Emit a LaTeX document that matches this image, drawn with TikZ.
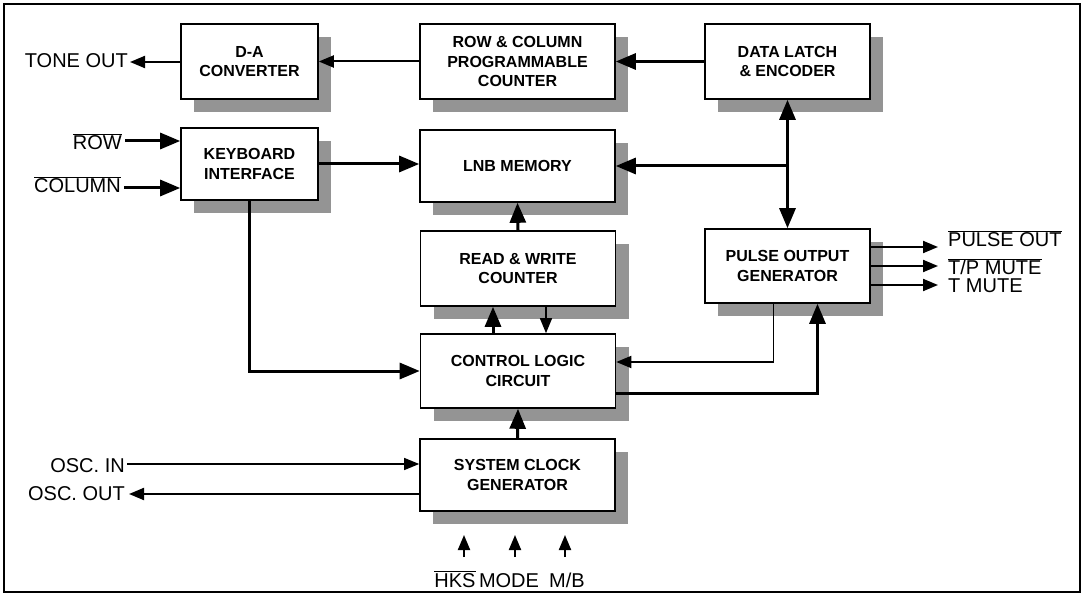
\documentclass[tikz,border=0pt]{standalone}
\usepackage{fontspec}
\setmainfont{Liberation Sans}
\usetikzlibrary{arrows.meta,shadows,calc}
\newcommand\ovl[1]{$\overline{\mbox{#1}}$}
\begin{document}
\begin{tikzpicture}[x=1pt,y=-1pt,
  blk/.style={draw,line width=1.6pt,fill=white,align=center,
    font=\fontsize{16}{19.5}\selectfont\bfseries,inner sep=0pt,
    drop shadow={shadow xshift=13pt,shadow yshift=-13pt,opacity=1,fill=black!42}},
  lbl/.style={font=\fontsize{20}{23}\selectfont,inner sep=0pt},
  thickarr/.style={line width=3pt,-{Triangle[length=20pt,width=16pt]}},
  dblarr/.style={line width=3pt,{Triangle[length=20pt,width=16pt]}-{Triangle[length=20pt,width=16pt]}},
  medarr/.style={line width=2pt,-{Triangle[length=15pt,width=12pt]}},
  thinarr/.style={line width=1.2pt,-{Triangle[length=15pt,width=12pt]}},
  thickln/.style={line width=3pt}
]
\useasboundingbox (0,0) rectangle (1085,596);
\draw[line width=1.8pt] (4,4) rectangle (1080,592);

% blocks
\node[blk,minimum width=137pt,minimum height=75pt] (da) at (249.5,61.5) {D-A\\CONVERTER};
\node[blk,minimum width=195pt,minimum height=75pt] (rc) at (517.5,61.5) {ROW \& COLUMN\\PROGRAMMABLE\\COUNTER};
\node[blk,minimum width=165pt,minimum height=75pt] (dl) at (787.5,61.5) {DATA LATCH\\\& ENCODER};
\node[blk,minimum width=137pt,minimum height=72pt] (kb) at (249.5,164) {KEYBOARD\\INTERFACE};
\node[blk,minimum width=195pt,minimum height=72pt] (lnb) at (517.5,166) {LNB MEMORY};
\node[blk,minimum width=195pt,minimum height=75pt] (rw) at (518,268.5) {READ \& WRITE\\COUNTER};
\node[blk,minimum width=195pt,minimum height=74pt] (cl) at (518,371) {CONTROL LOGIC\\CIRCUIT};
\node[blk,minimum width=165pt,minimum height=74pt] (po) at (787.5,266) {PULSE OUTPUT\\GENERATOR};
\node[blk,minimum width=195pt,minimum height=72pt] (sc) at (517.5,475) {SYSTEM CLOCK\\GENERATOR};

% labels
\node[lbl,anchor=base east] (tone) at (128,68) {TONE OUT};
\node[lbl,anchor=base east] (row) at (122,150) {\ovl{ROW}};
\node[lbl,anchor=base east] (col) at (121,193) {\ovl{COLUMN}};
\node[lbl,anchor=base east] (oscin) at (125,472) {OSC. IN};
\node[lbl,anchor=base east] (oscout) at (125,500) {OSC. OUT};
\node[lbl,anchor=base west] (pout) at (948,247) {\ovl{PULSE OUT}};
\node[lbl,anchor=base west] (tpm) at (948,275) {\ovl{T/P MUTE}};
\node[lbl,anchor=base west] (tm) at (948,293) {T MUTE};
\node[lbl,anchor=base] (hks) at (455,587) {\ovl{HKS}};
\node[lbl,anchor=base] (mode) at (509,587) {MODE};
\node[lbl,anchor=base] (mb) at (567,587) {M/B};

% anchor points
\coordinate (tonee) at ($(tone.base east)+(2,-6)$);
\coordinate (rowe) at ($(row.base east)+(3,-9)$);
\coordinate (cole) at ($(col.base east)+(3,-5)$);
\coordinate (oscine) at ($(oscin.base east)+(2,-8)$);
\coordinate (oscoute) at ($(oscout.base east)+(4,-6)$);
\coordinate (poutw) at ($(pout.base west)+(-10,0)$);
\coordinate (tpmw) at ($(tpm.base west)+(-10,-9)$);
\coordinate (tmw) at ($(tm.base west)+(-10,-8)$);
\coordinate (jn) at (lnb.east -| dl.south);
\coordinate (hb) at (464,557); \coordinate (ht) at (464,535);
\coordinate (mb1) at (515,557); \coordinate (mt) at (515,535);
\coordinate (bb) at (565,557); \coordinate (bt) at (565,535);
\coordinate (plA) at ($(po.south)+(-14,0)$);
\coordinate (clA) at ($(cl.east)+(0,-9)$);
\coordinate (clB) at ($(cl.east)+(0,22)$);
\coordinate (poB) at ($(po.south)+(30,0)$);

% connectors
\draw[medarr] (da.west) -- (tonee -| da.west) -- (tonee);
\draw[thinarr,line width=2pt] (rc.west) -- (da.east);
\draw[thickarr] (dl.west) -- (rc.east);
\draw[thickarr] (rowe) -- (rowe -| kb.west);
\draw[thickarr] (cole) -- (cole -| kb.west);
\draw[thickarr] (kb.east) -- (kb.east -| lnb.west);
\draw[dblarr] (dl.south) -- (po.north);
\draw[thickarr] (jn) -- (lnb.east);
\draw[thickarr] (rw.north) -- (lnb.south);
\draw[thickarr] ($(cl.north)+(-25,0)$) -- ($(rw.south)+(-25,0)$);
\draw[thinarr,line width=1.6pt] ($(rw.south)+(28,0)$) -- ($(cl.north)+(28,0)$);
\draw[thickarr] (kb.south) |- (cl.west);
\draw[thickarr] (sc.north) -- (cl.south);
\draw[thinarr,line width=1.8pt] (plA) |- (clA);
\draw[thickarr] (clB) -| (poB);
\draw[thinarr,line width=1.2pt] (oscine) -- (oscine -| sc.west);
\draw[medarr] (oscoute -| sc.west) -- (oscoute);
\draw[medarr] (poutw -| po.east) -- (poutw);
\draw[medarr] (tpmw -| po.east) -- (tpmw);
\draw[medarr] (tmw -| po.east) -- (tmw);
\draw[medarr] (hb) -- (ht);
\draw[medarr] (mb1) -- (mt);
\draw[medarr] (bb) -- (bt);
\end{tikzpicture}
\end{document}
